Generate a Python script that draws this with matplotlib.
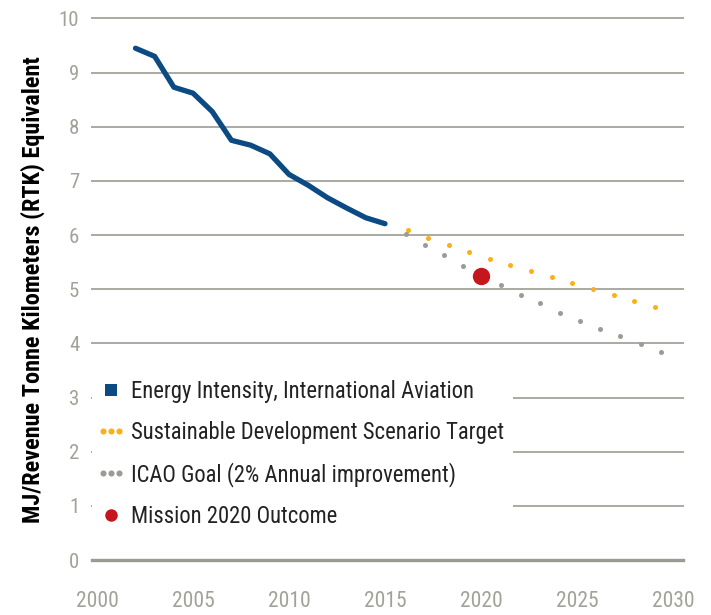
"""Energy intensity of international aviation with projected targets to 2030."""

import matplotlib

matplotlib.use("Agg")
import matplotlib.pyplot as plt
from matplotlib import font_manager
from matplotlib.legend_handler import HandlerLine2D
from matplotlib.lines import Line2D

# Historical energy intensity (MJ per RTK)
hist_years = [2002, 2003, 2004, 2005, 2006, 2007, 2008,
              2009, 2010, 2011, 2012, 2013, 2014, 2015]
hist_values = [9.45, 9.30, 8.73, 8.62, 8.28, 7.75, 7.66,
               7.50, 7.12, 6.92, 6.69, 6.50, 6.32, 6.21]

# Sustainable Development Scenario target
sds_years = [2016.18, 2017.26, 2018.32, 2019.38, 2020.45, 2021.53, 2022.60,
             2023.68, 2024.76, 2025.83, 2026.91, 2027.98, 2029.06]
sds_values = [6.09, 5.95, 5.82, 5.69, 5.56, 5.45, 5.34,
              5.23, 5.12, 5.00, 4.89, 4.78, 4.67]

# ICAO goal, 2% annual improvement
icao_years = [2016.11, 2017.08, 2018.06, 2019.05, 2021.04, 2022.07, 2023.09,
              2024.11, 2025.14, 2026.20, 2027.26, 2028.32, 2029.36]
icao_values = [6.02, 5.82, 5.63, 5.43, 5.07, 4.90, 4.74,
               4.57, 4.41, 4.27, 4.13, 3.99, 3.85]

mission_year = [2020]
mission_value = [5.24]

x_ticks = [2000, 2005, 2010, 2015, 2020, 2025, 2030]
y_ticks = [0, 1, 2, 3, 4, 5, 6, 7, 8, 9, 10]

BLUE = "#0b4a82"
GOLD = "#fbb116"
DOT_GRAY = "#9c9c94"
RED = "#c5161d"
GRID = "#aaaaa2"
TICK = "#a2a29a"


def pick_font():
    """Use a narrow family when one is installed."""
    names = {f.name for f in font_manager.fontManager.ttflist}
    for name in ["Roboto Condensed", "Liberation Sans Narrow", "DejaVu Sans"]:
        if name in names:
            return name
    return "DejaVu Sans"


plt.rcParams["font.family"] = [pick_font(), "DejaVu Sans"]

fig = plt.figure(figsize=(7.11, 6.15), dpi=100)
ax = fig.add_axes([0.129, 0.0894, 0.832, 0.8806])

ax.plot(hist_years, hist_values, color=BLUE, linewidth=3.8,
        solid_capstyle="round", solid_joinstyle="round", zorder=3)
ax.plot(sds_years, sds_values, linestyle="none", marker="o",
        markersize=3.6, color=GOLD, markeredgewidth=0, zorder=3)
ax.plot(icao_years, icao_values, linestyle="none", marker="o",
        markersize=3.6, color=DOT_GRAY, markeredgewidth=0, zorder=3)
ax.plot(mission_year, mission_value, linestyle="none", marker="o",
        markersize=12.5, color=RED, markeredgewidth=0, zorder=4)

ax.set_xlim(1999.72, 2030.54)
ax.set_ylim(0, 10)
ax.set_xticks(x_ticks)
ax.set_yticks(y_ticks)

for y in y_ticks[1:]:
    ax.axhline(y, color=GRID, linewidth=1.4, zorder=1, clip_on=False)
ax.axhline(0, color="#9a9a92", linewidth=2.4, zorder=1, clip_on=False)

for side in ["top", "right", "left", "bottom"]:
    ax.spines[side].set_visible(False)
ax.tick_params(axis="both", length=0, colors=TICK)
ax.tick_params(axis="x", labelsize=15.5, pad=22)
ax.tick_params(axis="y", labelsize=15, pad=9)

ax.set_ylabel("MJ/Revenue Tonne Kilometers (RTK) Equivalent",
              fontsize=17.5, fontweight="bold", color="black", labelpad=10)

handles = [
    Line2D([], [], linestyle="none", marker="s", markersize=8.5,
           color=BLUE, markeredgewidth=0),
    Line2D([], [], linestyle="none", marker="o", markersize=4.4,
           color=GOLD, markeredgewidth=0),
    Line2D([], [], linestyle="none", marker="o", markersize=4.4,
           color=DOT_GRAY, markeredgewidth=0),
    Line2D([], [], linestyle="none", marker="o", markersize=9,
           color=RED, markeredgewidth=0),
]
labels = [
    "Energy Intensity, International Aviation",
    "Sustainable Development Scenario Target",
    "ICAO Goal (2% Annual improvement)",
    "Mission 2020 Outcome",
]
single = HandlerLine2D(numpoints=1)
triple = HandlerLine2D(numpoints=3, marker_pad=0.12)
leg = ax.legend(
    handles, labels,
    handler_map={handles[0]: single, handles[1]: triple,
                 handles[2]: triple, handles[3]: single},
    loc="upper left", bbox_to_anchor=(0.0, 0.348),
    fontsize=16.3, labelcolor="#222222",
    frameon=True, facecolor="white", edgecolor="none", framealpha=1,
    fancybox=False, handlelength=0.97, handletextpad=0.4,
    labelspacing=0.79, borderpad=0.37, borderaxespad=0,
)
leg.set_zorder(2)

fig.savefig("out.png", dpi=100)
